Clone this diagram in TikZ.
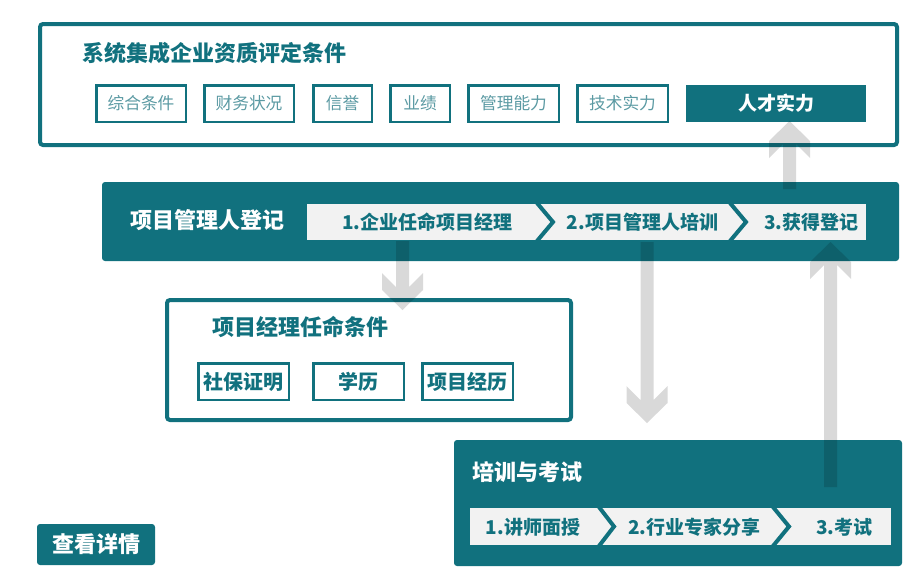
\documentclass[tikz,border=0pt]{standalone}
\usepackage{fontspec}
\setmainfont{Noto Sans CJK SC}
\usetikzlibrary{calc}
\definecolor{teal1}{HTML}{11717E}
\definecolor{lightteal}{HTML}{5B9AA3}
\definecolor{bandgray}{HTML}{F2F2F2}
\newcommand\grayarrow[3]{%
  \fill[arrowfill] ($(#1)+(-6.5,0)$) -- ($(#2)+(-6.5,{-23*(#3)})$) -- ($(#2)+(-20.5,{-37*(#3)})$)
    -- ($(#2)+(-20.5,{-20*(#3)})$) -- (#2) -- ($(#2)+(20.5,{-20*(#3)})$)
    -- ($(#2)+(20.5,{-37*(#3)})$) -- ($(#2)+(6.5,{-23*(#3)})$) -- ($(#1)+(6.5,0)$) -- cycle;}
\tikzset{
  outerbox/.style={draw=teal1, line width=4pt, fill=white, rounded corners=3pt, inner sep=0pt},
  filledbox/.style={fill=teal1, rounded corners=3pt, inner sep=0pt, text=white, font=\bfseries\fontsize{22}{25}\selectfont},
  lightbox/.style={draw=teal1, line width=2.5pt, fill=white, inner sep=0pt, minimum height=36.5pt, text=lightteal, font=\fontsize{16.7}{19}\selectfont},
  condbox/.style={draw=teal1, line width=2.5pt, fill=white, inner sep=0pt, minimum height=36.5pt, text=teal1, font=\bfseries\fontsize{20}{23}\selectfont},
  band/.style={fill=bandgray, inner sep=0pt},
  segtext/.style={inner sep=0pt, text=teal1, font=\bfseries\fontsize{19}{22}\selectfont},
  titleteal/.style={inner sep=0pt, anchor=west, text=teal1, font=\bfseries\fontsize{22}{25}\selectfont},
  titlewhite/.style={inner sep=0pt, anchor=west, text=white, font=\bfseries\fontsize{22}{25}\selectfont},
  stripe/.style={draw=teal1, line width=4pt, miter limit=10},
  arrowfill/.style={fill=black, fill opacity=0.15}
}
\begin{document}
\begin{tikzpicture}[x=1pt,y=-1pt]
\useasboundingbox (0,0) rectangle (921,574);
% top box
\node[outerbox, minimum width=857pt, minimum height=121pt] (quali) at (468.5,84.5) {};
\node[titleteal] (qualititle) at (82,53) {系统集成企业资质评定条件};
\node[lightbox, minimum width=89.5pt] (q1) at (141,103.5) {综合条件};
\node[lightbox, minimum width=89.5pt] (q2) at (249,103.5) {财务状况};
\node[lightbox, minimum width=58.5pt] (q3) at (342.5,103.5) {信誉};
\node[lightbox, minimum width=59.5pt] (q4) at (420,103.5) {业绩};
\node[lightbox, minimum width=90.5pt] (q5) at (513.5,103.5) {管理能力};
\node[lightbox, minimum width=90.5pt] (q6) at (622.5,103.5) {技术实力};
\node[fill=teal1, inner sep=0pt, minimum width=180pt, minimum height=37pt, text=white, font=\bfseries\fontsize{19}{22}\selectfont] (q7) at (776,103.5) {人才实力};
% registration box
\node[filledbox, minimum width=797pt, minimum height=79pt] (reg) at (500.5,221.5) {};
\node[titlewhite] (regtitle) at (130,220) {项目管理人登记};
\node[band, minimum width=559pt, minimum height=36pt] (band1) at (586.5,222) {};
\draw[stripe] (537,203) -- (553,222) -- (537,241);
\draw[stripe] (730,203) -- (746,222) -- (730,241);
\node[segtext] (r1) at (427.5,222) {1.企业任命项目经理};
\node[segtext] (r2) at (642.5,222) {2.项目管理人培训};
\node[segtext] (r3) at (811.5,222) {3.获得登记};
% conditions box
\node[outerbox, minimum width=404pt, minimum height=120pt] (cond) at (369,360) {};
\node[titleteal] (condtitle) at (212,327) {项目经理任命条件};
\node[condbox, minimum width=90.5pt] (c1) at (243.5,381.5) {社保证明};
\node[condbox, minimum width=90.5pt] (c2) at (358.5,381.5) {学历};
\node[condbox, minimum width=90.5pt] (c3) at (467.5,381.5) {项目经历};
% training box
\node[filledbox, minimum width=448pt, minimum height=126pt] (train) at (678,503) {};
\node[titlewhite] (traintitle) at (472,472) {培训与考试};
\node[band, minimum width=421pt, minimum height=37pt] (band2) at (680.5,526.5) {};
\draw[stripe] (599,507) -- (614,526.5) -- (599,546);
\draw[stripe] (773,507) -- (789,526.5) -- (773,546);
\node[segtext] (t1) at (533,527) {1.讲师面授};
\node[segtext] (t2) at (694.5,527) {2.行业专家分享};
\node[segtext] (t3) at (844.5,527) {3.考试};
% button
\node[filledbox, minimum width=118pt, minimum height=41pt] (more) at (96,544.5) {查看详情};
% arrows
\coordinate (a1s) at (789.5,189);
\coordinate (a1e) at (789.5,121);
\coordinate (a2s) at (402.5,241);
\coordinate (a2e) at (402.5,310);
\coordinate (a3s) at (647,242);
\coordinate (a3e) at (647,423);
\coordinate (a4s) at (830.5,487);
\coordinate (a4e) at (830.5,242);
\grayarrow{a1s}{a1e}{-1}
\grayarrow{a2s}{a2e}{1}
\grayarrow{a3s}{a3e}{1}
\grayarrow{a4s}{a4e}{-1}
\end{tikzpicture}
\end{document}
